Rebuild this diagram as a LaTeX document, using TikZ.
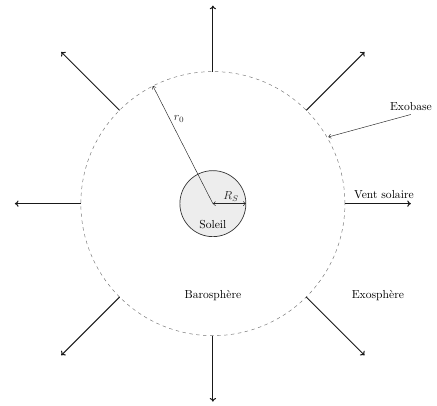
\documentclass[tikz,border=0pt]{standalone}
\usetikzlibrary{arrows.meta}
\begin{document}
\begin{tikzpicture}
\useasboundingbox (-6.45,-6.11) rectangle (6.79,6.17);
\tikzset{
  wind/.style={line width=0.9pt, black!90, -{To[length=3.2pt,width=5.5pt]}},
  radius arrow/.style={black!85, -{To[length=2.5pt,width=4pt]}},
}
\coordinate (O) at (0,0);
\node[circle, draw=black!80, fill=black!7, minimum size=2cm, inner sep=0pt, semithick] (sun) at (O) {};
\node[circle, draw=black!55, dashed, minimum size=8cm, inner sep=0pt] (baro) at (O) {};
% wind arrows
\foreach \a in {0,90,180,270} {
  \coordinate (ws\a) at (\a:4);
  \coordinate (we\a) at (\a:6);
  \draw[wind] (ws\a) -- (we\a);
}
\foreach \a in {45,135,225,315} {
  \coordinate (ws\a) at (\a:4);
  \coordinate (we\a) at (\a:6.5);
  \draw[wind] (ws\a) -- (we\a);
}
% radii
\coordinate (r0end) at (117:4);
\draw[radius arrow] (O) -- node[right, pos=0.72] (r0lab) {$r_0$} (r0end);
\coordinate (rsend) at (0:1);
\draw[{To[length=2.5pt,width=4pt]}-{To[length=2.5pt,width=4pt]}, black!85] (O) -- node[above, pos=0.55, inner sep=2pt] (rslab) {$R_S$} (rsend);
% labels
\node (soleil) at (0,-0.62) {Soleil};
\node (barolab) at (0,-2.8) {Barosphère};
\node (exolab) at (5.0,-2.8) {Exosphère};
\node (vent) at (5.18,0.26) {Vent solaire};
\node (exob) at (6.0,2.95) {Exobase};
\coordinate (exopt) at (30:4.04);
\draw[radius arrow] (exob.south) -- (exopt);
\end{tikzpicture}
\end{document}
